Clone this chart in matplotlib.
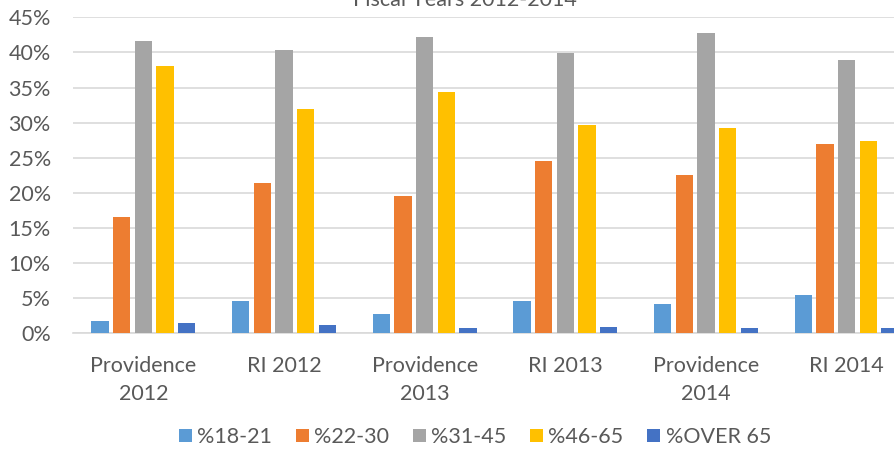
import numpy as np
import matplotlib.pyplot as plt
from matplotlib.ticker import PercentFormatter

plt.rcParams['font.family'] = ['Lato', 'DejaVu Sans']

categories = ['Providence\n2012', 'RI 2012', 'Providence\n2013', 'RI 2013', 'Providence\n2014', 'RI 2014']
series_names = ['%18-21', '%22-30', '%31-45', '%46-65', '%OVER 65']
colors = ['#5B9BD5', '#ED7D31', '#A5A5A5', '#FFC000', '#4472C4']

pct_18_21 = [1.8, 4.6, 2.7, 4.6, 4.2, 5.5]
pct_22_30 = [16.6, 21.4, 19.5, 24.5, 22.6, 27.0]
pct_31_45 = [41.6, 40.4, 42.2, 39.9, 42.7, 38.9]
pct_46_65 = [38.0, 31.9, 34.3, 29.6, 29.3, 27.4]
pct_over_65 = [1.4, 1.2, 0.7, 0.9, 0.7, 0.7]
values = [pct_18_21, pct_22_30, pct_31_45, pct_46_65, pct_over_65]

text_col = '#595959'
grid_col = '#D9D9D9'

fig = plt.figure(figsize=(8.95, 4.49), dpi=100)
ax = fig.add_axes([73/895, 0.2577, 844/895, 0.7037])

x = np.arange(len(categories))
step = 0.154
width = 0.123
for i, (name, vals) in enumerate(zip(series_names, values)):
    ax.bar(x + (i - 2) * step, vals, width, color=colors[i], label=name, zorder=3)

ax.set_xlim(-0.5, len(categories) - 0.5)
ax.set_ylim(0, 45)
ax.set_yticks(np.arange(0, 46, 5))
ax.yaxis.set_major_formatter(PercentFormatter(decimals=0))
ax.grid(axis='y', color=grid_col, lw=1.2, zorder=0)
for s in ['top', 'left', 'right']:
    ax.spines[s].set_visible(False)
ax.spines['bottom'].set_color(grid_col)
ax.spines['bottom'].set_linewidth(1.2)

ax.set_xticks(x)
ax.set_xticklabels(categories, linespacing=1.5)
ax.tick_params(axis='x', length=0, pad=16, labelsize=15.5, labelcolor=text_col)
ax.tick_params(axis='y', length=0, pad=16, labelsize=15.5, labelcolor=text_col)

# title sits partly above the top edge, as in the source image
fig.text(465/895, 1 - 6/449, 'Fiscal Years 2012-2014', ha='center', va='baseline',
         fontsize=15.5, color=text_col)

fig.legend(loc='center', bbox_to_anchor=(475/895, 1 - 437/449), ncol=5, frameon=False,
           fontsize=15.5, labelcolor=text_col, handlelength=0.6, handleheight=0.6,
           handletextpad=0.25, columnspacing=1.1, borderpad=0)

fig.savefig('out.png', dpi=100)
